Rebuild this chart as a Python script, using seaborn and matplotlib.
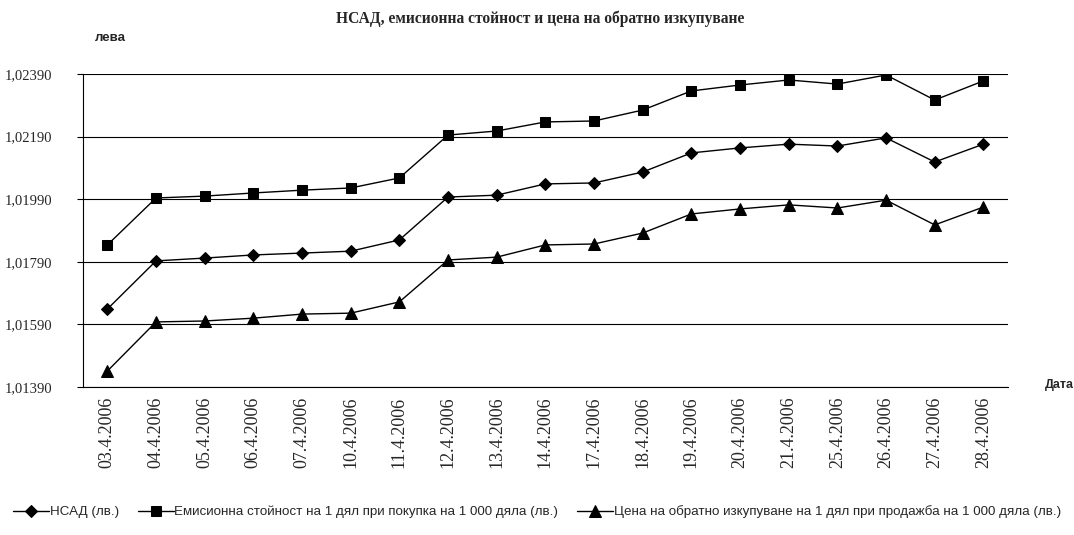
import pandas as pd
import matplotlib
matplotlib.use("Agg")
import matplotlib.pyplot as plt
import matplotlib.ticker as mticker
import seaborn as sns

# Data
dates = ["03.4.2006", "04.4.2006", "05.4.2006", "06.4.2006", "07.4.2006",
         "10.4.2006", "11.4.2006", "12.4.2006", "13.4.2006", "14.4.2006",
         "17.4.2006", "18.4.2006", "19.4.2006", "20.4.2006", "21.4.2006",
         "25.4.2006", "26.4.2006", "27.4.2006", "28.4.2006"]
nav = [1.01639, 1.01793, 1.01802, 1.01812, 1.01818, 1.01824, 1.01860,
       1.01997, 1.02003, 1.02039, 1.02042, 1.02077, 1.02138, 1.02154,
       1.02166, 1.02160, 1.02186, 1.02109, 1.02166]
issue = [1.01844, 1.01994, 1.02000, 1.02010, 1.02019, 1.02026, 1.02058,
         1.02195, 1.02208, 1.02237, 1.02240, 1.02275, 1.02336, 1.02355,
         1.02371, 1.02358, 1.02387, 1.02307, 1.02368]
redeem = [1.01441, 1.01598, 1.01601, 1.01610, 1.01623, 1.01626, 1.01662,
          1.01796, 1.01805, 1.01844, 1.01847, 1.01882, 1.01943, 1.01959,
          1.01972, 1.01962, 1.01987, 1.01908, 1.01965]
series_names = ["НСАД (лв.)",
                "Емисионна стойност на 1 дял при покупка на 1 000 дяла (лв.)",
                "Цена на обратно изкупуване на 1 дял при продажба на 1 000 дяла (лв.)"]
yticks = [1.01390, 1.01590, 1.01790, 1.01990, 1.02190, 1.02390]

df = pd.DataFrame({"pos": range(len(dates)), "nav": nav, "issue": issue, "redeem": redeem})

sns.set_style("white")
serif = ["Liberation Serif", "DejaVu Serif"]
sans = ["Liberation Sans", "DejaVu Sans"]

fig = plt.figure(figsize=(10.74, 5.35), dpi=100)
ax = fig.add_axes([0.0773, 0.2766, 0.861, 0.585])

markers = {"nav": ("D", 6), "issue": ("s", 7), "redeem": ("^", 8)}
for col, name in zip(["nav", "issue", "redeem"], series_names):
    m, ms = markers[col]
    sns.lineplot(data=df, x="pos", y=col, ax=ax, color="black", linewidth=1,
                 marker=m, markersize=ms, markeredgecolor="black", label=name)

ax.set_xlim(-0.5, len(dates) - 0.5)
ax.set_ylim(yticks[0], yticks[-1])
ax.set_yticks(yticks)
ax.yaxis.set_major_formatter(mticker.FuncFormatter(lambda v, p: f"{v:.5f}".replace(".", ",")))
ax.grid(axis="y", color="black", linewidth=0.8)
ax.set_axisbelow(True)

ax.set_xticks(range(len(dates)))
ax.set_xticklabels(dates, rotation=90, family=serif, fontsize=13)
ax.set_xticks([i - 0.5 for i in range(len(dates) + 1)], minor=True)
ax.tick_params(axis="x", which="major", length=0, pad=7)
ax.tick_params(axis="x", which="minor", length=4, width=0.8, color="black", direction="out")
ax.tick_params(axis="y", length=4, width=0.8, color="black", direction="out", pad=18,
               left=True)
for lbl in ax.get_yticklabels():
    lbl.set_family(serif)
    lbl.set_fontsize(10.5)

for s in ["top", "right"]:
    ax.spines[s].set_visible(False)
for s in ["left", "bottom"]:
    ax.spines[s].set_visible(True)
    ax.spines[s].set_color("black")
    ax.spines[s].set_linewidth(0.8)

ax.set_xlabel("")
ax.set_ylabel("")

fig.text(0.503, 0.965, "НСАД, емисионна стойност и цена на обратно изкупуване",
         ha="center", va="center", family=serif, fontweight="bold", fontsize=11.2)
fig.text(0.088, 0.929, "лева", ha="left", va="center", family=sans,
         fontweight="bold", fontsize=9.5)
fig.text(0.973, 0.281, "Дата", ha="left", va="center", family=sans,
         fontweight="bold", fontsize=9)

ax.legend(loc="center", bbox_to_anchor=(0.500, 0.043), bbox_transform=fig.transFigure,
          ncol=3, frameon=False, handlelength=2.7, columnspacing=1.4,
          handletextpad=0.05, prop={"family": sans, "size": 9.6})

fig.savefig("out.png", dpi=100)
